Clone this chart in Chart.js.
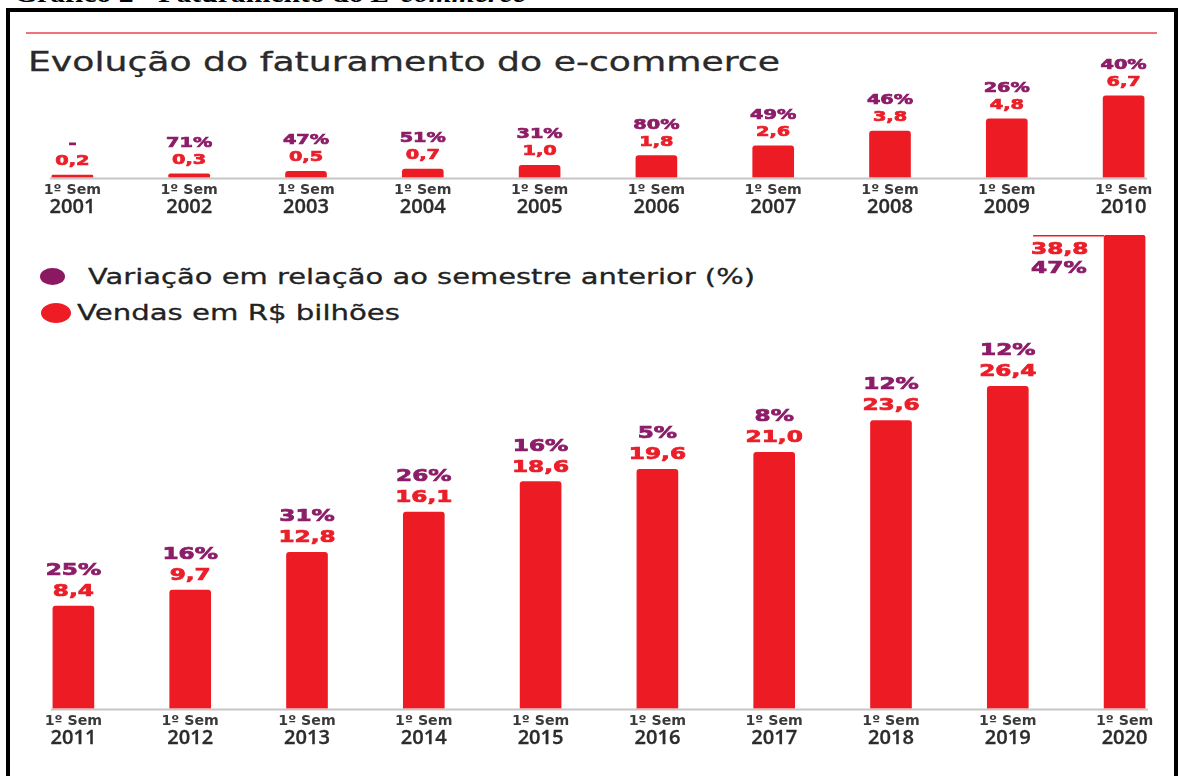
<!DOCTYPE html>
<html>
<head>
<meta charset="utf-8">
<script src="https://cdn.jsdelivr.net/npm/chart.js@4.4.1/dist/chart.umd.min.js"></script>
<style>
  html, body { margin:0; padding:0; width:1179px; height:776px; overflow:hidden; background:#fff; }
  .abs { position:absolute; }
  #frame { left:6px; top:8px; width:1172px; height:830px; border:4px solid #000; box-sizing:border-box; }
  #redline { left:26px; top:32px; width:1131px; height:2px; background:#F07378; }
  .txt { white-space:nowrap; display:inline-block; transform-origin:0 0; }
  #caption { left:14px; top:-19px; font:bold 26px "Liberation Serif"; line-height:26px; color:#000; }
  #title { left:28px; top:49px; font:26px "DejaVu Sans"; line-height:26px; color:#2a2a2a; -webkit-text-stroke:0.3px #2a2a2a; }
  .leg { font:22px "DejaVu Sans"; line-height:22px; color:#222; -webkit-text-stroke:0.3px #222; }
  #leg1 { left:88px; top:266px; }
  #leg2 { left:77px; top:302px; }
  .dot { border-radius:50%; }
  #dot1 { left:40px; top:268px; width:25px; height:17px; background:#8C1862; }
  #dot2 { left:41px; top:303px; width:30px; height:20px; background:#EE1C25; }
  canvas { position:absolute; left:0; }
  #c1 { top:40px; }
  #c2 { top:215px; }
</style>
</head>
<body>
<div id="frame" class="abs"></div>
<div id="caption" class="abs txt" data-w="512">Gráfico 2 - Faturamento do <i>E-commerce</i></div>
<div id="redline" class="abs"></div>
<div id="title" class="abs txt" data-w="752">Evolução do faturamento do e-commerce</div>
<div id="dot1" class="abs dot"></div>
<div id="leg1" class="abs txt leg" data-w="667">Variação em relação ao semestre anterior (%)</div>
<div id="dot2" class="abs dot"></div>
<div id="leg2" class="abs txt leg" data-w="323">Vendas em R$ bilhões</div>
<canvas id="c1" width="1200" height="200"></canvas>
<canvas id="c2" width="1200" height="561"></canvas>
<script>
// ---- data ----
const semLabel = '1º Sem';
const years1 = ['2001','2002','2003','2004','2005','2006','2007','2008','2009','2010'];
const sales1 = [0.2, 0.3, 0.5, 0.7, 1.0, 1.8, 2.6, 3.8, 4.8, 6.7];
const pct1   = [null, 71, 47, 51, 31, 80, 49, 46, 26, 40];
const years2 = ['2011','2012','2013','2014','2015','2016','2017','2018','2019','2020'];
const sales2 = [8.4, 9.7, 12.8, 16.1, 18.6, 19.6, 21.0, 23.6, 26.4, 38.8];
const pct2   = [25, 16, 31, 26, 16, 5, 8, 12, 12, 47];

const RED = '#ED1C24';
const LABEL_RED = '#EA1F29';
const PURPLE = '#8C1D68';

// fit HTML text widths
document.querySelectorAll('[data-w]').forEach(el => {
  const w = el.getBoundingClientRect().width;
  el.style.transform = 'scaleX(' + (parseFloat(el.dataset.w) / w) + ')';
});

function fmt(v) { return v.toFixed(1).replace('.', ','); }

function drawStretched(ctx, text, x, y, font, color, sx, align, stroke) {
  ctx.save();
  ctx.font = font;
  ctx.fillStyle = color;
  ctx.textAlign = align;
  ctx.textBaseline = 'alphabetic';
  ctx.translate(x, y);
  ctx.scale(sx, 1);
  ctx.fillText(text, 0, 0);
  if (stroke) {
    ctx.strokeStyle = color;
    ctx.lineWidth = stroke;
    ctx.strokeText(text, 0, 0);
  }
  ctx.restore();
}

const labelPlugin = {
  id: 'barLabels',
  beforeDatasetsDraw(chart) {
    const ctx = chart.ctx;
    const meta = chart.getDatasetMeta(0);
    const area = chart.chartArea;
    const first = meta.data[0], last = meta.data[meta.data.length - 1];
    ctx.save();
    ctx.strokeStyle = '#C6C6C6';
    ctx.lineWidth = 2;
    ctx.beginPath();
    ctx.moveTo(first.x - first.width / 2 - 2, area.bottom + 1);
    ctx.lineTo(last.x + last.width / 2 + 3, area.bottom + 1);
    ctx.stroke();
    ctx.restore();
  },
  afterDatasetsDraw(chart, args, opts) {
    const ctx = chart.ctx;
    const meta = chart.getDatasetMeta(0);
    const ds = chart.data.datasets[0];
    const area = chart.chartArea;
    const xs = chart.scales.x;
    const n = meta.data.length;
    meta.data.forEach((bar, i) => {
      const vt = fmt(ds.data[i]);
      const p = opts.pcts[i];
      const pt = p == null ? '-' : p + '%';
      if (opts.sideLast && i === n - 1) {
        ctx.save();
        ctx.strokeStyle = RED;
        ctx.lineWidth = 1.5;
        ctx.beginPath();
        ctx.moveTo(bar.x - bar.width / 2 - 71, bar.y + 0.75);
        ctx.lineTo(bar.x - bar.width / 2, bar.y + 0.75);
        ctx.stroke();
        ctx.restore();
        const lx = bar.x - bar.width / 2 - 73;
        drawStretched(ctx, vt, lx, bar.y + 19, opts.font, LABEL_RED, opts.sx, 'left', 0.7);
        drawStretched(ctx, pt, lx, bar.y + 38, opts.font, PURPLE, opts.sx, 'left', 0.7);
      } else {
        const ry = bar.y - opts.gap1;
        drawStretched(ctx, vt, bar.x, ry, opts.font, LABEL_RED, opts.sx, 'center', 0.7);
        drawStretched(ctx, pt, bar.x, ry - opts.gap2, opts.font, PURPLE, opts.sx, 'center', 0.7);
      }
      const cx = xs.getPixelForValue(i);
      drawStretched(ctx, semLabel, cx, area.bottom + 16.5, 'bold 13.5px "DejaVu Sans"', '#3a3a3a', 1.05, 'center');
      drawStretched(ctx, chart.data.labels[i], cx, area.bottom + 35, '600 19.5px "Open Sans"', '#2c2c2c', 1.03, 'center', 0.3);
    });
  }
};

function makeChart(id, labels, values, pcts, yMax, pad, lopts) {
  lopts.pcts = pcts;
  return new Chart(document.getElementById(id), {
    type: 'bar',
    data: {
      labels: labels,
      datasets: [{
        data: values,
        backgroundColor: RED,
        borderRadius: { topLeft: 3, topRight: 3, bottomLeft: 0, bottomRight: 0 },
        borderSkipped: 'bottom',
        barThickness: 41
      }]
    },
    options: {
      responsive: false,
      animation: false,
      events: [],
      layout: { padding: pad },
      plugins: {
        legend: { display: false },
        tooltip: { enabled: false },
        barLabels: lopts
      },
      scales: {
        x: { display: false },
        y: { display: false, min: 0, max: yMax }
      }
    },
    plugins: [labelPlugin]
  });
}

makeChart('c1', years1, sales1, pct1, 7,
  { top: 52.1, bottom: 62.5, left: 14, right: 18 },
  { font: 'bold 14px "DejaVu Sans"', sx: 1.38, gap1: 10, gap2: 17, sideLast: false });

makeChart('c2', years2, sales2, pct2, 38.8,
  { top: 20, bottom: 67.5, left: 15, right: 17 },
  { font: 'bold 16px "DejaVu Sans"', sx: 1.45, gap1: 10, gap2: 21, sideLast: true });
</script>
</body>
</html>
